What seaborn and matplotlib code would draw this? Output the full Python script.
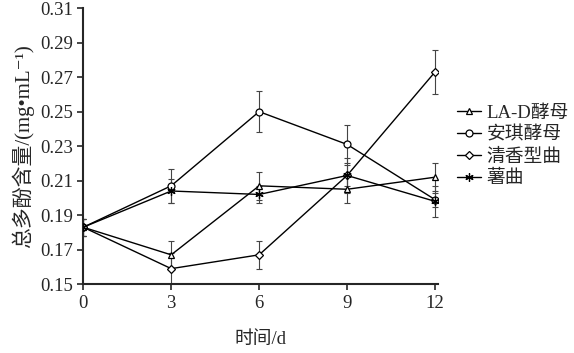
import numpy as np
import pandas as pd
import matplotlib
matplotlib.use('Agg')
import matplotlib.pyplot as plt
import seaborn as sns

days = [0, 3, 6, 9, 12]
series_names = ['LA-D酵母', '安琪酵母', '清香型曲', '薯曲']
la_d = [0.183, 0.167, 0.207, 0.205, 0.212]
anqi = [0.183, 0.207, 0.250, 0.231, 0.199]
qingxiang = [0.183, 0.159, 0.167, 0.213, 0.273]
shuqu = [0.183, 0.204, 0.202, 0.213, 0.198]
la_d_err = [0.005, 0.008, 0.008, 0.008, 0.008]
anqi_err = [0.005, 0.010, 0.012, 0.011, 0.004]
qingxiang_err = [0.005, 0.009, 0.008, 0.010, 0.013]
shuqu_err = [0.005, 0.007, 0.005, 0.006, 0.009]
y_ticks = [0.15, 0.17, 0.19, 0.21, 0.23, 0.25, 0.27, 0.29, 0.31]

sns.set_style('ticks')
plt.rcParams['font.family'] = ['Liberation Serif', 'Noto Sans CJK SC', 'DejaVu Sans']

fig, ax = plt.subplots(figsize=(5.74, 3.53), dpi=100)
fig.subplots_adjust(left=0.145, right=0.763, top=0.977, bottom=0.195)

all_vals = [la_d, anqi, qingxiang, shuqu]
all_err = [la_d_err, anqi_err, qingxiang_err, shuqu_err]
marker_list = ['^', 'o', 'D', (6, 2, 0)]
msize = [5, 5, 3.8, 6]

for name, vals, err, mk, ms in zip(series_names, all_vals, all_err, marker_list, msize):
    ax.errorbar(days, vals, yerr=err, fmt='none', ecolor='#444444',
                elinewidth=0.8, capsize=2.5, capthick=0.8, zorder=2)
    sns.lineplot(x=days, y=vals, color='black', marker=mk, markersize=ms,
                 markerfacecolor='white', markeredgecolor='black',
                 markeredgewidth=0.9, linewidth=1.0, label=name, ax=ax, zorder=3)

ax.set_xlim(0, 12.1)
ax.set_ylim(0.15, 0.31)
ax.set_xticks(days)
ax.set_yticks(y_ticks)
ax.set_yticklabels([f'{t:.2f}' for t in y_ticks])
ax.spines['top'].set_visible(False)
ax.spines['right'].set_visible(False)
ax.spines['left'].set_linewidth(1.5)
ax.spines['bottom'].set_linewidth(1.5)
ax.tick_params(direction='out', length=4, width=1.2, labelsize=13.5)
ax.set_xlabel('时间/d', fontsize=13.5, labelpad=14)
ax.set_ylabel('总多酚含量/(mg•mL⁻¹)', fontsize=15, labelpad=4)

ax.legend(loc='center left', bbox_to_anchor=(1.0, 0.5), frameon=False,
          fontsize=13.5, handlelength=1.3, handletextpad=0.3,
          labelspacing=0.25, borderaxespad=0.6)

fig.savefig('out.png', dpi=100)
